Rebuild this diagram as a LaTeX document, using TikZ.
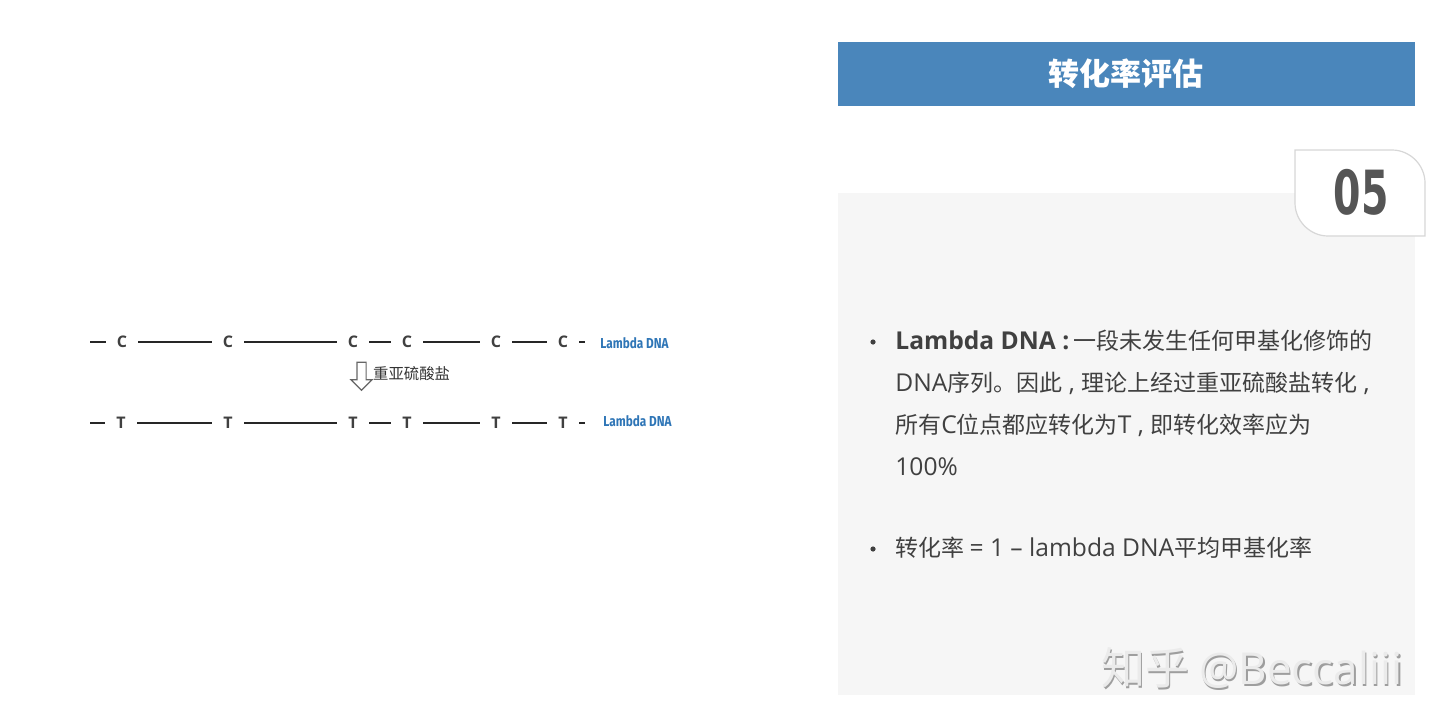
\documentclass[tikz,border=0pt]{standalone}
\usepackage{fontspec}
\usepackage{graphicx}
\setmainfont{Noto Sans CJK SC}
\newfontfamily\enfont{Open Sans}
\newcommand{\en}{\enfont\fontsize{12.3}{21}\selectfont}
\newfontfamily\narrow{Fira Sans}
\newfontfamily\numfont{DejaVu Sans}
\usetikzlibrary{positioning,shapes.arrows}
\definecolor{titleBlue}{RGB}{74,134,187}
\definecolor{dnaBlue}{RGB}{46,117,182}
\definecolor{panelGray}{RGB}{246,246,246}
\definecolor{textGray}{RGB}{64,64,64}
\definecolor{boxLine}{RGB}{215,215,215}
\definecolor{numGray}{RGB}{85,85,85}
\newcommand{\cma}{{\en\ ,\ }}

\begin{document}
\begin{tikzpicture}[x=0.5pt, y=-0.5pt,
    base/.style={font=\enfont\bfseries\fontsize{8}{9}\selectfont, text=textGray,
                 inner sep=0pt, minimum width=16pt, minimum height=7pt},
    strand/.style={draw=black!85, line width=1pt},
    dnalabel/.style={font=\narrow\bfseries\fontsize{7.2}{8}\selectfont, text=dnaBlue,
                     anchor=west, inner sep=0pt},
    bullettext/.style={anchor=west, inner sep=0pt, text=textGray,
                       font=\fontsize{11.5}{21}\selectfont},
    bulletdot/.style={circle, fill=textGray, inner sep=0pt, minimum size=2.6pt},
    watermark/.style={font=\fontsize{22}{24}\selectfont, inner sep=0pt}
  ]
  \useasboundingbox (0,0) rectangle (1440,728);

  % right panel
  \fill[panelGray] (838,193) rectangle (1415,695);
  \fill[titleBlue] (838,42) rectangle (1415,106);
  \node[text=white, font=\bfseries\fontsize{15.5}{18}\selectfont] (title) at (1126,74) {转化率评估};

  % number box
  \draw[boxLine, fill=white, line width=0.6pt]
    (1295,150) -- (1392,150) .. controls (1410,150) and (1425,165) .. (1425,183)
    -- (1425,236) -- (1328,236) .. controls (1310,236) and (1295,221) .. (1295,203) -- cycle;
  \node[text=numGray, font=\numfont\bfseries\fontsize{29}{30}\selectfont] (num) at (1361,192)
    {\scalebox{0.68}[1.05]{05}};

  % bullets
  \node[bulletdot] (b1) at (873,342) {};
  \node[bullettext] (l1) at (895,341) {{\en\bfseries Lambda DNA :}\,一段未发生任何甲基化修饰的};
  \node[bullettext] (l2) at (895,383) {{\en DNA}序列。因此\cma 理论上经过重亚硫酸盐转化\cma};
  \node[bullettext] (l3) at (895,425) {所有{\en C}位点都应转化为{\en T}\cma 即转化效率应为};
  \node[bullettext] (l4) at (895,467) {{\en 100\%}};
  \node[bulletdot] (b2) at (873,549) {};
  \node[bullettext] (l5) at (895,548) {转化率 {\en = 1 – lambda DNA}平均甲基化率};

  % watermark
  \node[watermark, text=black!38] (markS) at (1253.5,669.5) {知乎 {\enfont @Beccaliii}};
  \node[watermark, text=white!92!black] (markT) at (1252,668) {知乎 {\enfont @Beccaliii}};

  % strands
  \foreach \x [count=\i] in {122,228,353,407,496,563}
    \node[base] (c\i) at (\x,342) {C};
  \foreach \x [count=\i] in {121,228,353,407,496,563}
    \node[base] (t\i) at (\x,423) {T};
  \coordinate (cs) at (90,342);
  \coordinate (ce) at (585,342);
  \coordinate (ts) at (90,423);
  \coordinate (te) at (585,423);
  \draw[strand] (cs) -- (c1);
  \draw[strand] (c6) -- (ce);
  \draw[strand] (ts) -- (t1);
  \draw[strand] (t6) -- (te);
  \foreach \i/\j in {1/2,2/3,3/4,4/5,5/6} {
    \draw[strand] (c\i) -- (c\j);
    \draw[strand] (t\i) -- (t\j);
  }
  \node[dnalabel] (lc) at (600,343) {\scalebox{0.82}[1]{Lambda DNA}};
  \node[dnalabel] (lt) at (603,421) {\scalebox{0.82}[1]{Lambda DNA}};

  % conversion
  \node[single arrow, draw=black!60, fill=white, shape border rotate=270, inner sep=2pt,
        minimum height=14pt, single arrow head extend=3pt, line width=0.6pt] (arr) at (361.5,374) {};
  \node[right=3pt of arr, inner sep=0pt, text=black!80, font=\fontsize{7.7}{9}\selectfont] (sulf) {重亚硫酸盐};
\end{tikzpicture}
\end{document}
